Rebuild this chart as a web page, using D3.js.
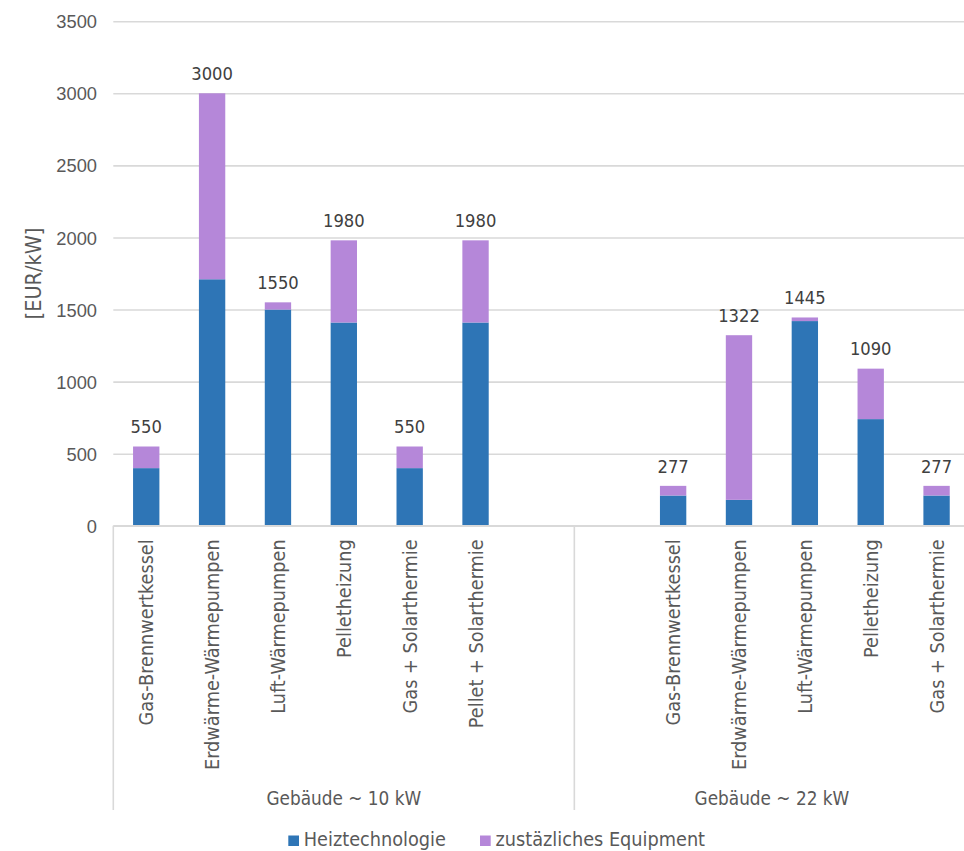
<!DOCTYPE html>
<html>
<head>
<meta charset="utf-8">
<script src="https://cdn.jsdelivr.net/npm/d3@7"></script>
<style>
  html, body { margin: 0; padding: 0; background: #ffffff; }
  svg { display: block; font-family: "DejaVu Sans Condensed", "DejaVu Sans", sans-serif; }
</style>
</head>
<body>
<svg id="chart" width="964" height="851"></svg>
<script>
// Category slots (empty strings are spacer slots between the building groups)
const categories = [
  "Gas-Brennwertkessel", "Erdwärme-Wärmepumpen", "Luft-Wärmepumpen", "Pelletheizung",
  "Gas + Solarthermie", "Pellet + Solarthermie", "",
  "", "Gas-Brennwertkessel", "Erdwärme-Wärmepumpen", "Luft-Wärmepumpen", "Pelletheizung",
  "Gas + Solarthermie"
];
const groupNames = ["Gebäude ~ 10 kW", "Gebäude ~ 22 kW"];
const groupSizes = [7, 6];

const seriesNames = ["Heiztechnologie", "zustäzliches Equipment"];
const heiztechnologie = [400, 1710, 1500, 1410, 400, 1410, 0, 0, 210, 180, 1420, 740, 210];
const equipment       = [150, 1290, 50, 570, 150, 570, 0, 0, 67, 1142, 25, 350, 67];
const yTicks = [0, 500, 1000, 1500, 2000, 2500, 3000, 3500];
const yTitle = "[EUR/kW]";

const colors = ["#2e75b6", "#b587d9"];
const textColor = "#595959";
const gridColor = "#d9d9d9";

const svg = d3.select("#chart");
const W = 964, H = 851;
svg.append("rect").attr("width", W).attr("height", H).attr("fill", "#fff");

const plotLeft = 113.3, plotRight = 969.5, plotTop = 21.2, plotBottom = 525.8;

const x = d3.scaleBand()
  .domain(d3.range(categories.length))
  .range([plotLeft, plotRight])
  .paddingInner(0.6)
  .paddingOuter(0.3);

const y = d3.scaleLinear().domain([0, 3500]).range([plotBottom, plotTop]);

// Gridlines
const grid = svg.append("g")
  .attr("transform", `translate(${plotLeft},0)`)
  .call(d3.axisLeft(y).tickValues(yTicks).tickSize(-(plotRight - plotLeft)).tickFormat(""));
grid.select(".domain").remove();
grid.selectAll("line").attr("stroke", gridColor).attr("stroke-width", 1.6);

// Y tick labels
const yAxis = svg.append("g")
  .attr("transform", "translate(97,0)")
  .call(d3.axisLeft(y).tickValues(yTicks).tickSize(0).tickPadding(0).tickFormat(d3.format("d")));
yAxis.select(".domain").remove();
yAxis.selectAll("text")
  .attr("fill", textColor)
  .attr("font-family", null)
  .attr("font-size", null)
  .style("font-size", "18.3px")
  .attr("dy", "0.36em");

// Y axis title
svg.append("text")
  .attr("transform", `translate(33,${(plotTop + plotBottom) / 2}) rotate(-90)`)
  .attr("text-anchor", "middle")
  .attr("dy", "0.36em")
  .attr("fill", textColor)
  .style("font-size", "21.5px")
  .text(yTitle);

// Stacked bars
const rows = categories.map((c, i) => ({ i, heiz: heiztechnologie[i], equip: equipment[i] }));
const stacked = d3.stack().keys(["heiz", "equip"])(rows);

svg.append("g").selectAll("g")
  .data(stacked)
  .join("g")
  .attr("fill", (d, k) => colors[k])
  .selectAll("rect")
  .data(d => d.filter(p => p.data.heiz + p.data.equip > 0))
  .join("rect")
  .attr("x", p => x(p.data.i))
  .attr("width", x.bandwidth())
  .attr("y", p => y(p[1]))
  .attr("height", p => y(p[0]) - y(p[1]));

// Total labels above bars
svg.append("g").selectAll("text")
  .data(rows.filter(r => r.heiz + r.equip > 0))
  .join("text")
  .attr("x", r => x(r.i) + x.bandwidth() / 2)
  .attr("y", r => y(r.heiz + r.equip) - 13.3)
  .attr("text-anchor", "middle")
  .attr("fill", "#404040")
  .style("font-size", "18.2px")
  .text(r => d3.format("d")(r.heiz + r.equip));

// Category axis: baseline and group separators
const axisBottom = 810;
svg.append("line")
  .attr("x1", plotLeft).attr("x2", W)
  .attr("y1", plotBottom).attr("y2", plotBottom)
  .attr("stroke", gridColor).attr("stroke-width", 1.6);

let start = 0;
const step = x.step();
const bounds = [];
groupSizes.forEach(n => {
  bounds.push([plotLeft + start * step, plotLeft + (start + n) * step]);
  start += n;
});
const sepX = [bounds[0][0], bounds[0][1], bounds[1][1]];
svg.append("g").selectAll("line")
  .data(sepX)
  .join("line")
  .attr("x1", d => d).attr("x2", d => d)
  .attr("y1", plotBottom).attr("y2", axisBottom)
  .attr("stroke", gridColor).attr("stroke-width", 1.6);

// Rotated category labels
svg.append("g").selectAll("text")
  .data(categories.map((c, i) => ({ c, i })).filter(d => d.c))
  .join("text")
  .attr("transform", d => `translate(${x(d.i) + x.bandwidth() / 2},539.3) rotate(-90)`)
  .attr("text-anchor", "end")
  .attr("dy", "0.36em")
  .attr("fill", textColor)
  .style("font-size", "19.7px")
  .text(d => d.c);

// Group labels
svg.append("g").selectAll("text")
  .data(groupNames)
  .join("text")
  .attr("x", (d, g) => (bounds[g][0] + bounds[g][1]) / 2)
  .attr("y", 805)
  .attr("text-anchor", "middle")
  .attr("fill", textColor)
  .style("font-size", "18.8px")
  .text(d => d);

// Legend
const legendItems = [
  { name: seriesNames[0], color: colors[0], x: 288.3 },
  { name: seriesNames[1], color: colors[1], x: 480 }
];
const legend = svg.append("g").selectAll("g")
  .data(legendItems)
  .join("g")
  .attr("transform", d => `translate(${d.x},835.5)`);
legend.append("rect").attr("width", 10.7).attr("height", 10.5).attr("fill", d => d.color);
legend.append("text")
  .attr("x", 15.5).attr("y", 10.7)
  .attr("fill", textColor)
  .style("font-size", "19.7px")
  .text(d => d.name);
</script>
</body>
</html>
